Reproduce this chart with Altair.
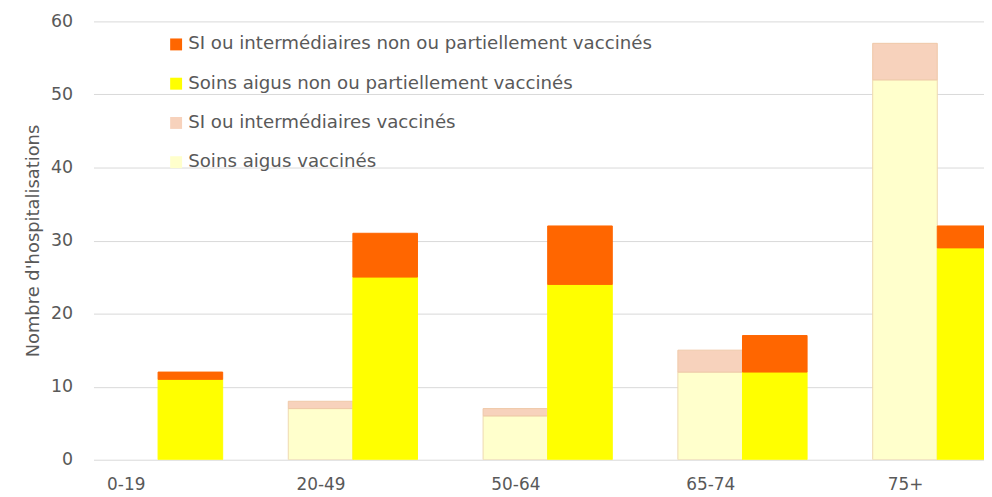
import altair as alt
import pandas as pd

ages = ["0-19", "20-49", "50-64", "65-74", "75+"]
si_non_vacc = [1, 6, 8, 5, 3]
aigus_non_vacc = [11, 25, 24, 12, 29]
si_vacc = [0, 1, 1, 3, 5]
aigus_vacc = [0, 7, 6, 12, 52]

series = [
    "SI ou intermédiaires non ou partiellement vaccinés",
    "Soins aigus non ou partiellement vaccinés",
    "SI ou intermédiaires vaccinés",
    "Soins aigus vaccinés",
]
fills = ["#FF6600", "#FFFF00", "#F7D2BC", "#FFFFCC"]
strokes = ["#FF6600", "#FFFF00", "#EFC9A8", "#EED9B0"]

rows = []
for i, a in enumerate(ages):
    rows.append(dict(age=a, statut="vacc", serie=series[3], value=aigus_vacc[i], ord=0))
    rows.append(dict(age=a, statut="vacc", serie=series[2], value=si_vacc[i], ord=1))
    rows.append(dict(age=a, statut="non", serie=series[1], value=aigus_non_vacc[i], ord=0))
    rows.append(dict(age=a, statut="non", serie=series[0], value=si_non_vacc[i], ord=1))
df = pd.DataFrame(rows)
df = df[df["value"] > 0]

FONT = "DejaVu Sans"
GRAY = "#595959"

chart = alt.Chart(df).mark_bar(clip=True, strokeWidth=1).encode(
    x=alt.X(
        "age:N",
        sort=ages,
        scale=alt.Scale(paddingInner=66 / 196, paddingOuter=0, range=[0, 914]),
        axis=alt.Axis(
            title=None, labelAngle=0, ticks=False, tickSize=0, domain=False,
            labelOffset=-32, labelPadding=17, labelFont=FONT, labelFontSize=17,
            labelColor=GRAY,
        ),
    ),
    xOffset=alt.XOffset("statut:N", sort=["vacc", "non"]),
    y=alt.Y(
        "value:Q",
        stack="zero",
        scale=alt.Scale(domain=[0, 60]),
        axis=alt.Axis(
            title="Nombre d'hospitalisations", values=[0, 10, 20, 30, 40, 50, 60],
            ticks=False, tickSize=0, domain=False, labelPadding=21,
            labelFont=FONT, labelFontSize=17.5, labelColor=GRAY,
            titleFont=FONT, titleFontSize=18, titleFontWeight="normal",
            titleColor=GRAY, titlePadding=8,
            gridColor="#D9D9D9", gridWidth=1,
        ),
    ),
    color=alt.Color(
        "serie:N",
        scale=alt.Scale(domain=series, range=fills),
        legend=alt.Legend(
            title=None, orient="none", legendX=74, legendY=14,
            symbolType="square", symbolSize=144, symbolStrokeWidth=0,
            labelFont=FONT, labelFontSize=18.3, labelColor=GRAY,
            rowPadding=20.5, labelOffset=3, labelLimit=600,
        ),
    ),
    stroke=alt.Stroke("serie:N", scale=alt.Scale(domain=series, range=strokes), legend=None),
    order=alt.Order("ord:Q"),
).properties(
    width=896,
    height=441,
    autosize=alt.AutoSizeParams(type="none"),
    padding={"left": 86, "top": 12, "right": 0, "bottom": 36},
).configure_view(stroke=None)

chart.save("out.html", embed_options={"renderer": "svg", "actions": False})
